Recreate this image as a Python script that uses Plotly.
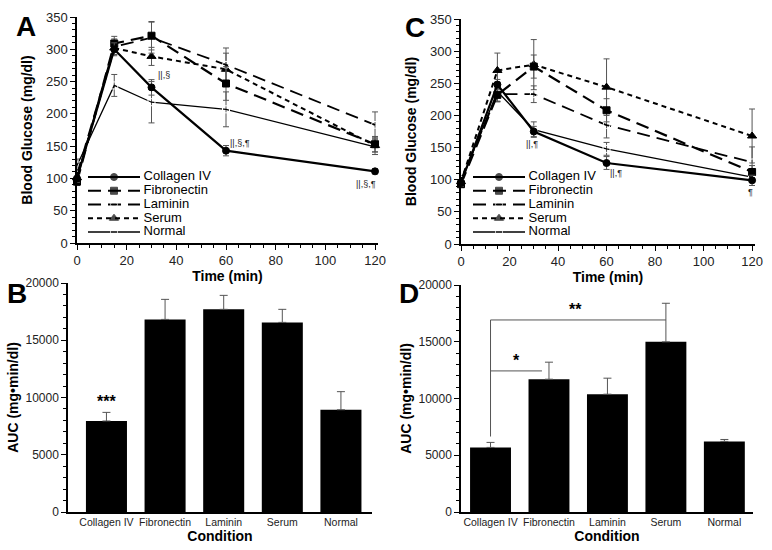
import plotly.graph_objects as go

# ---------------- data ----------------
times = [0, 15, 30, 60, 120]
series = ["Collagen IV", "Fibronectin", "Laminin", "Serum", "Normal"]

# Panel A
a_collagen = [100, 300, 241, 143, 111]
a_collagen_err = [6, 10, 12, 8, 4]
a_fibronectin = [95, 309, 321, 247, 153]
a_fibronectin_err = [6, 11, 22, 26, 12]
a_laminin = [106, 304, 318, 276, 183]
a_laminin_err = [8, 12, 24, 26, 20]
a_serum = [101, 302, 289, 269, 151]
a_serum_err = [6, 10, 14, 25, 10]
a_normal = [120, 244, 218, 207, 149]
a_normal_err = [10, 17, 32, 27, 12]

# Panel C
c_collagen = [95, 248, 175, 126, 99]
c_collagen_err = [5, 8, 8, 10, 8]
c_fibronectin = [93, 232, 276, 208, 112]
c_fibronectin_err = [5, 10, 18, 18, 10]
c_laminin = [100, 233, 233, 185, 127]
c_laminin_err = [6, 12, 13, 20, 24]
c_serum = [97, 270, 279, 244, 168]
c_serum_err = [6, 27, 39, 44, 42]
c_normal = [97, 237, 178, 148, 104]
c_normal_err = [5, 15, 12, 10, 8]

conditions = ["Collagen IV", "Fibronectin", "Laminin", "Serum", "Normal"]
b_auc = [7950, 16820, 17700, 16560, 8930]
b_auc_err = [750, 1750, 1220, 1140, 1580]
d_auc = [5690, 11700, 10380, 14990, 6220]
d_auc_err = [440, 1500, 1410, 3400, 170]

time_ticks = [0, 20, 40, 60, 80, 100, 120]
glucose_ticks = [0, 50, 100, 150, 200, 250, 300, 350]
auc_ticks = [0, 5000, 10000, 15000, 20000]

# significance brackets in panel D: (from idx, to idx, level, label, label x)
d_brackets = [(0, 0.88, 12430, "*", 0.45), (0, 3, 16920, "**", 1.45)]
d_bracket_base = 6650

# ---------------- styles ----------------
FONT = "Liberation Sans, Arial, sans-serif"
W, H = 772, 550
styles = {
    "Collagen IV": dict(dash="solid", width=2.2, symbol="circle", size=7, open=False),
    "Fibronectin": dict(dash="13px,7px", width=2.2, symbol="square", size=7, open=False),
    "Laminin": dict(dash="13px,7px", width=1.8, symbol="circle-open", size=7, open=True),
    "Serum": dict(dash="5px,4px", width=2.0, symbol="triangle-up", size=8, open=False),
    "Normal": dict(dash="solid", width=1.3, symbol="square-open", size=7, open=True),
}

def px_dom_x(a, b):
    return [a / W, b / W]

def px_dom_y(top, bottom):
    return [(H - bottom) / H, (H - top) / H]

fig = go.Figure()

panel_a = [a_collagen, a_fibronectin, a_laminin, a_serum, a_normal]
panel_a_err = [a_collagen_err, a_fibronectin_err, a_laminin_err, a_serum_err, a_normal_err]
panel_c = [c_collagen, c_fibronectin, c_laminin, c_serum, c_normal]
panel_c_err = [c_collagen_err, c_fibronectin_err, c_laminin_err, c_serum_err, c_normal_err]

def add_lines(vals, errs, xa, ya):
    order = [4, 3, 2, 1, 0]
    for i in order:
        name = series[i]
        st = styles[name]
        fig.add_trace(go.Scatter(
            x=times, y=vals[i], mode="lines+markers", name=name, showlegend=False,
            xaxis=xa, yaxis=ya, cliponaxis=False,
            line=dict(color="black", width=st["width"], dash=st["dash"]),
            marker=dict(symbol=st["symbol"], size=st["size"], color="black" if not st["open"] else "white",
                        line=dict(color="black", width=1)),
            error_y=dict(type="data", array=errs[i], color="#555", thickness=1, width=3),
        ))

add_lines(panel_a, panel_a_err, "x", "y")
add_lines(panel_c, panel_c_err, "x3", "y3")

fig.add_trace(go.Bar(x=conditions, y=b_auc, xaxis="x2", yaxis="y2", showlegend=False,
                     marker=dict(color="black", line=dict(width=0)), width=0.7,
                     error_y=dict(type="data", array=b_auc_err, arrayminus=[0] * 5, symmetric=False,
                                  color="#555", thickness=1, width=4)))
fig.add_trace(go.Bar(x=conditions, y=d_auc, xaxis="x4", yaxis="y4", showlegend=False,
                     marker=dict(color="black", line=dict(width=0)), width=0.7,
                     error_y=dict(type="data", array=d_auc_err, arrayminus=[0] * 5, symmetric=False,
                                  color="#555", thickness=1, width=4)))

# manual legends (hidden axes)
legend_rows_px = [177, 191, 205, 218.5, 232]
row_h = 13.75
def add_legend(xa, ya):
    for i, name in enumerate(series):
        st = styles[name]
        fig.add_trace(go.Scatter(
            x=[0, 0.5, 1], y=[i, i, i], mode="lines+markers+text", showlegend=False,
            xaxis=xa, yaxis=ya, cliponaxis=False, hoverinfo="skip",
            text=["", "", " " + name], textposition="middle right",
            textfont=dict(family=FONT, size=13, color="black"),
            line=dict(color="black", width=min(st["width"], 2), dash=st["dash"]),
            marker=dict(symbol=st["symbol"], size=[0, st["size"], 0],
                        color="black" if not st["open"] else "white",
                        line=dict(color="black", width=[0, 1, 0])),
        ))

add_legend("x5", "y5")
add_legend("x6", "y6")

tickfont = dict(family=FONT, size=13, color="#222")
auc_tickfont = dict(family=FONT, size=12, color="#222")
titlefont = dict(family=FONT, size=14, color="black", weight="bold")

def time_axis(dom):
    return dict(domain=dom, range=[0, 121.2], tickvals=time_ticks, showline=True, linecolor="black",
                linewidth=1.5, ticks="outside", ticklen=5, tickwidth=1.2, tickcolor="black",
                minor=dict(dtick=5, tick0=0, ticks="outside", ticklen=3, tickcolor="black", tickwidth=1),
                showgrid=False, zeroline=False, tickfont=tickfont, automargin=False,
                title=dict(text="Time (min)", font=titlefont, standoff=2))

def glucose_axis(dom, anchor):
    return dict(domain=dom, range=[0, 350], tickvals=glucose_ticks, showline=True, linecolor="black",
                linewidth=1.5, ticks="outside", ticklen=5, tickwidth=1.2, tickcolor="black",
                minor=dict(dtick=10, tick0=0, ticks="outside", ticklen=3, tickcolor="black", tickwidth=1),
                showgrid=False, zeroline=False, tickfont=tickfont, automargin=False, anchor=anchor,
                title=dict(text="Blood Glucose (mg/dl)", font=titlefont, standoff=10))

def cond_axis(dom, rng):
    return dict(domain=dom, range=rng, showline=True, linecolor="black", linewidth=1.5, ticks="",
                showgrid=False, zeroline=False, automargin=False,
                tickfont=dict(family=FONT, size=10.5, color="#222"),
                title=dict(text="Condition", font=titlefont, standoff=2))

def auc_axis(dom, anchor):
    return dict(domain=dom, range=[0, 20000], tickvals=auc_ticks, tickformat="d", showline=True,
                linecolor="black",
                linewidth=1.5, ticks="outside", ticklen=5, tickwidth=1.2, tickcolor="black",
                minor=dict(dtick=1000, tick0=0, ticks="outside", ticklen=3, tickcolor="black", tickwidth=1),
                showgrid=False, zeroline=False, tickfont=auc_tickfont, automargin=False, anchor=anchor,
                title=dict(text="AUC (mg•min/dl)", font=titlefont, standoff=4))

def hidden(dom, rng, anchor):
    return dict(domain=dom, range=rng, visible=False, showgrid=False, zeroline=False, anchor=anchor)

leg_ydom = px_dom_y(legend_rows_px[0] - row_h / 2, legend_rows_px[-1] + row_h / 2)

fig.update_layout(
    width=W, height=H, margin=dict(l=0, r=0, t=0, b=0),
    paper_bgcolor="white", plot_bgcolor="rgba(0,0,0,0)",
    font=dict(family=FONT, color="black"),
    xaxis=dict(time_axis(px_dom_x(77, 378)), anchor="y"),
    yaxis=glucose_axis(px_dom_y(17, 243), "x"),
    xaxis3=dict(time_axis(px_dom_x(461, 755)), anchor="y3"),
    yaxis3=glucose_axis(px_dom_y(19, 244), "x3"),
    xaxis2=dict(cond_axis(px_dom_x(68, 372), [-0.656, 4.53]), anchor="y2"),
    yaxis2=auc_axis(px_dom_y(283, 512), "x2"),
    xaxis4=dict(cond_axis(px_dom_x(461, 753), [-0.505, 4.49]), anchor="y4"),
    yaxis4=auc_axis(px_dom_y(285, 512), "x4"),
    xaxis5=hidden(px_dom_x(88, 140), [0, 1], "y5"),
    yaxis5=hidden(leg_ydom, [4.5, -0.5], "x5"),
    xaxis6=hidden(px_dom_x(473, 525), [0, 1], "y6"),
    yaxis6=hidden(leg_ydom, [4.5, -0.5], "x6"),
    showlegend=False,
)

ann = []
# panel letters
for letter, x, y in [("A", 14, 27), ("B", 5, 293), ("C", 403, 28), ("D", 397, 293)]:
    ann.append(dict(text=letter, xref="paper", yref="paper", x=x / W, y=1 - y / H, xanchor="left",
                    yanchor="middle", showarrow=False,
                    font=dict(family=FONT, size=28, color="black", weight="bold")))

sym_font = dict(family=FONT, size=9, color="#222")
# significance marks panel A
ann.append(dict(text="||,§", x=times[2], y=a_collagen[2], xref="x", yref="y", xanchor="left",
                xshift=4, yshift=12, showarrow=False, font=sym_font))
ann.append(dict(text="||,§,¶", x=times[3], y=a_collagen[3], xref="x", yref="y", xanchor="left",
                xshift=2, yshift=8, showarrow=False, font=sym_font))
ann.append(dict(text="||,§,¶", x=times[4], y=a_collagen[4], xref="x", yref="y", xanchor="center",
                xshift=-9, yshift=-13, showarrow=False, font=sym_font))
# panel C
ann.append(dict(text="||,¶", x=times[2], y=c_collagen[2], xref="x3", yref="y3", xanchor="center",
                xshift=-2, yshift=-12, showarrow=False, font=sym_font))
ann.append(dict(text="||,¶", x=times[3], y=c_collagen[3], xref="x3", yref="y3", xanchor="left",
                xshift=1, yshift=-10, showarrow=False, font=sym_font))
ann.append(dict(text="¶", x=times[4], y=c_collagen[4], xref="x3", yref="y3", xanchor="center",
                xshift=-2, yshift=-12, showarrow=False, font=sym_font))

# panel B stars
ann.append(dict(text="***", x=0, y=b_auc[0] + b_auc_err[0], xref="x2", yref="y2", yanchor="bottom",
                yshift=0, showarrow=False, font=dict(family=FONT, size=16, color="black", weight="bold")))

# panel D brackets
shapes = []
for (i0, i1, lvl, lab, labx) in d_brackets:
    shapes.append(dict(type="line", xref="x4", yref="y4", x0=i0, x1=i1, y0=lvl, y1=lvl,
                       line=dict(color="#555", width=1)))
    ann.append(dict(text=lab, x=labx, y=lvl, xref="x4", yref="y4", yanchor="bottom", yshift=0,
                    showarrow=False, font=dict(family=FONT, size=16, color="black", weight="bold")))
shapes.append(dict(type="line", xref="x4", yref="y4", x0=0, x1=0, y0=d_bracket_base,
                   y1=max(b[2] for b in d_brackets), line=dict(color="#555", width=1)))

fig.update_layout(annotations=ann, shapes=shapes)
fig.write_html("out.html", config={"displayModeBar": False},
               post_script="document.body.style.margin='0';")
